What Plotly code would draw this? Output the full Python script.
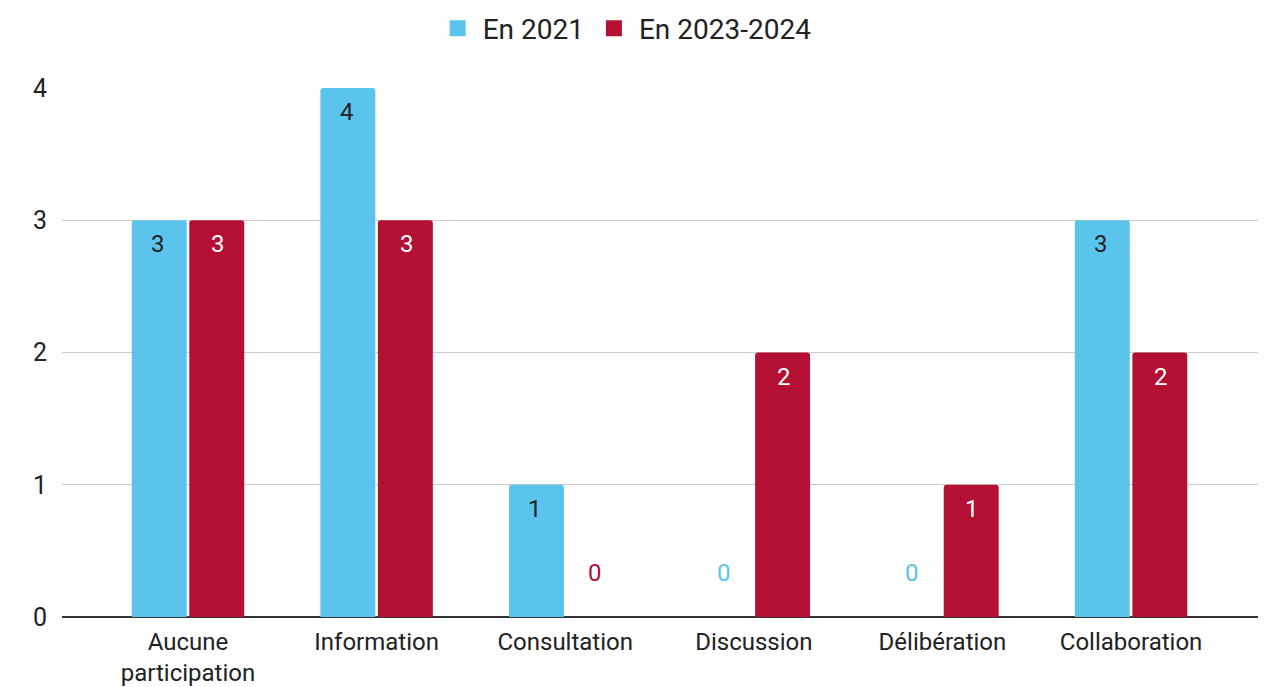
import plotly.graph_objects as go

categories = ["Aucune<br>participation", "Information", "Consultation", "Discussion", "Délibération", "Collaboration"]
series_names = ["En 2021", "En 2023-2024"]
values_2021 = [3, 4, 1, 0, 0, 3]
values_2023 = [3, 3, 0, 2, 1, 2]
y_ticks = [0, 1, 2, 3, 4]

BLUE = "#5BC4EC"
RED = "#B31034"
FONT = "Roboto"
TXT = "#222222"

fig = go.Figure()
for name, vals, col in [(series_names[0], values_2021, BLUE), (series_names[1], values_2023, RED)]:
    fig.add_trace(go.Bar(x=categories, y=vals, name=name, marker=dict(color=col, line=dict(width=0)),
                         hoverinfo="x+y", showlegend=False, legendgroup=name))
# legend entries with larger square swatches
for name, col in [(series_names[0], BLUE), (series_names[1], RED)]:
    fig.add_trace(go.Scatter(x=[None], y=[None], mode="markers", name=name, legendgroup=name,
                             marker=dict(symbol="square", size=16, color=col), showlegend=True))

annotations = []
offset = 0.159
for vals, sign, col, txtcol in [(values_2021, -1, BLUE, TXT), (values_2023, 1, RED, "#FFFFFF")]:
    for i, v in enumerate(vals):
        if v > 0:
            annotations.append(dict(x=i + sign * offset, y=v, xref="x", yref="y", text=str(v),
                                    showarrow=False, yanchor="middle", yshift=-24,
                                    font=dict(family=FONT, size=24, color=txtcol)))
        else:
            annotations.append(dict(x=i + sign * offset, y=v, xref="x", yref="y", text=str(v),
                                    showarrow=False, yanchor="middle", yshift=44,
                                    font=dict(family=FONT, size=24, color=col)))

fig.update_layout(
    width=1267, height=687,
    margin=dict(l=62, r=9, t=88, b=70),
    paper_bgcolor="white", plot_bgcolor="white",
    barmode="group", bargap=0.39, bargroupgap=0.045,
    barcornerradius=3,
    font=dict(family=FONT, size=24, color=TXT),
    legend=dict(orientation="h", x=0.493, xref="container", xanchor="center", y=0.995, yref="container",
                yanchor="top", font=dict(family=FONT, size=28, color=TXT),
                itemwidth=40, tracegroupgap=0),
    annotations=annotations,
    showlegend=True,
)
fig.update_xaxes(type="category", range=[-0.668, 5.673], showgrid=False, showline=False, automargin=False,
                 ticks="", ticklabelstandoff=8, tickfont=dict(family=FONT, size=24, color=TXT), zeroline=False)
fig.update_yaxes(range=[0, 4], tickvals=y_ticks, showgrid=True, gridcolor="#CCCCCC", gridwidth=1,
                 zeroline=True, zerolinecolor="#333333", zerolinewidth=2, showline=False, automargin=False,
                 ticks="", ticklabelstandoff=14, tickfont=dict(family=FONT, size=25, color=TXT))

fig.write_html("out.html", config={"displayModeBar": False},
               post_script="document.body.style.margin='0';")
